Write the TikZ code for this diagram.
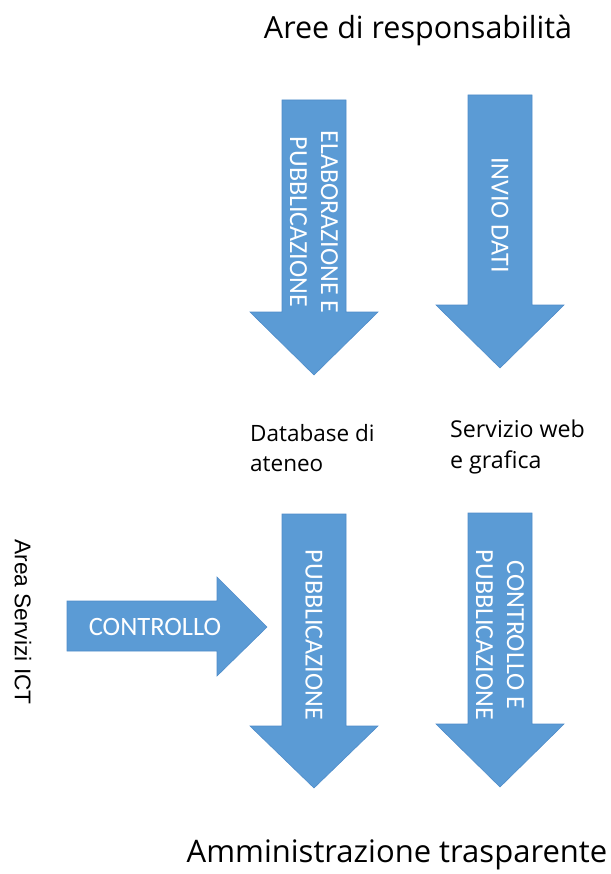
\documentclass[tikz,border=0pt]{standalone}
\usepackage{fontspec}
\setmainfont{Open Sans}
\newfontfamily\arrowfont{Carlito}
\newfontfamily\sidefont{Liberation Sans}
\begin{document}
\begin{tikzpicture}[x=1pt,y=-1pt,
  blockarrow/.style={fill=arrowblue,draw=arrowedge,line width=0.6pt,line join=miter},
  arrowtext/.style={text=white,font=\arrowfont\fontsize{26}{31}\selectfont,align=center,inner sep=0pt},
  plain/.style={text=black,inner sep=0pt},
  office/.style={plain,font=\fontsize{22.5}{30.5}\selectfont,align=left,anchor=west}]
\definecolor{arrowblue}{HTML}{5B9BD5}
\definecolor{arrowedge}{HTML}{4F8CC9}
\useasboundingbox (0,0) rectangle (610,874);

% heading
\node[plain,font=\fontsize{30.5}{36}\selectfont,anchor=base] (title) at (418,39) {Aree di responsabilità};

% upper arrows: from the responsible areas to the offices
\path[blockarrow] (282,100) -- (346,100) -- (346,312) -- (378,312) -- (314,375)
  -- (250,312) -- (282,312) -- cycle;
\node[arrowtext,rotate=-90] (elab) at (314,222) {ELABORAZIONE E\\PUBBLICAZIONE};

\path[blockarrow] (468,95) -- (532,95) -- (532,305) -- (564,305) -- (500,368)
  -- (436,305) -- (468,305) -- cycle;
\node[arrowtext,rotate=-90] (invio) at (500,215) {INVIO DATI};

% offices
\node[office] (db) at (250,448) {Database di\\ateneo};
\node[office,font=\fontsize{23.2}{30.5}\selectfont] (web) at (450,447) {Servizio web\\e grafica};

% lower arrows: towards publication
\path[blockarrow] (282,514) -- (346,514) -- (346,726) -- (378,726) -- (314,788)
  -- (250,726) -- (282,726) -- cycle;
\node[arrowtext,rotate=-90] (pubb) at (314,635) {PUBBLICAZIONE};

\path[blockarrow] (468,513) -- (532,513) -- (532,724) -- (564,724) -- (500,787)
  -- (436,724) -- (468,724) -- cycle;
\node[arrowtext,rotate=-90] (ctrl) at (500,635) {CONTROLLO E\\PUBBLICAZIONE};

% control by the ICT services
\path[blockarrow] (67,601) -- (217,601) -- (217,577) -- (267,627) -- (217,676)
  -- (217,651) -- (67,651) -- cycle;
\node[arrowtext,font=\arrowfont\fontsize{26.5}{31}\selectfont] (controllo) at (155,627) {CONTROLLO};
\node[plain,font=\sidefont\fontsize{22.7}{27}\selectfont,rotate=-90] (ict) at (23,622) {Area Servizi ICT};

% footer
\node[plain,font=\fontsize{31}{36}\selectfont,anchor=base] (amm) at (397,862) {Amministrazione trasparente};
\end{tikzpicture}
\end{document}
